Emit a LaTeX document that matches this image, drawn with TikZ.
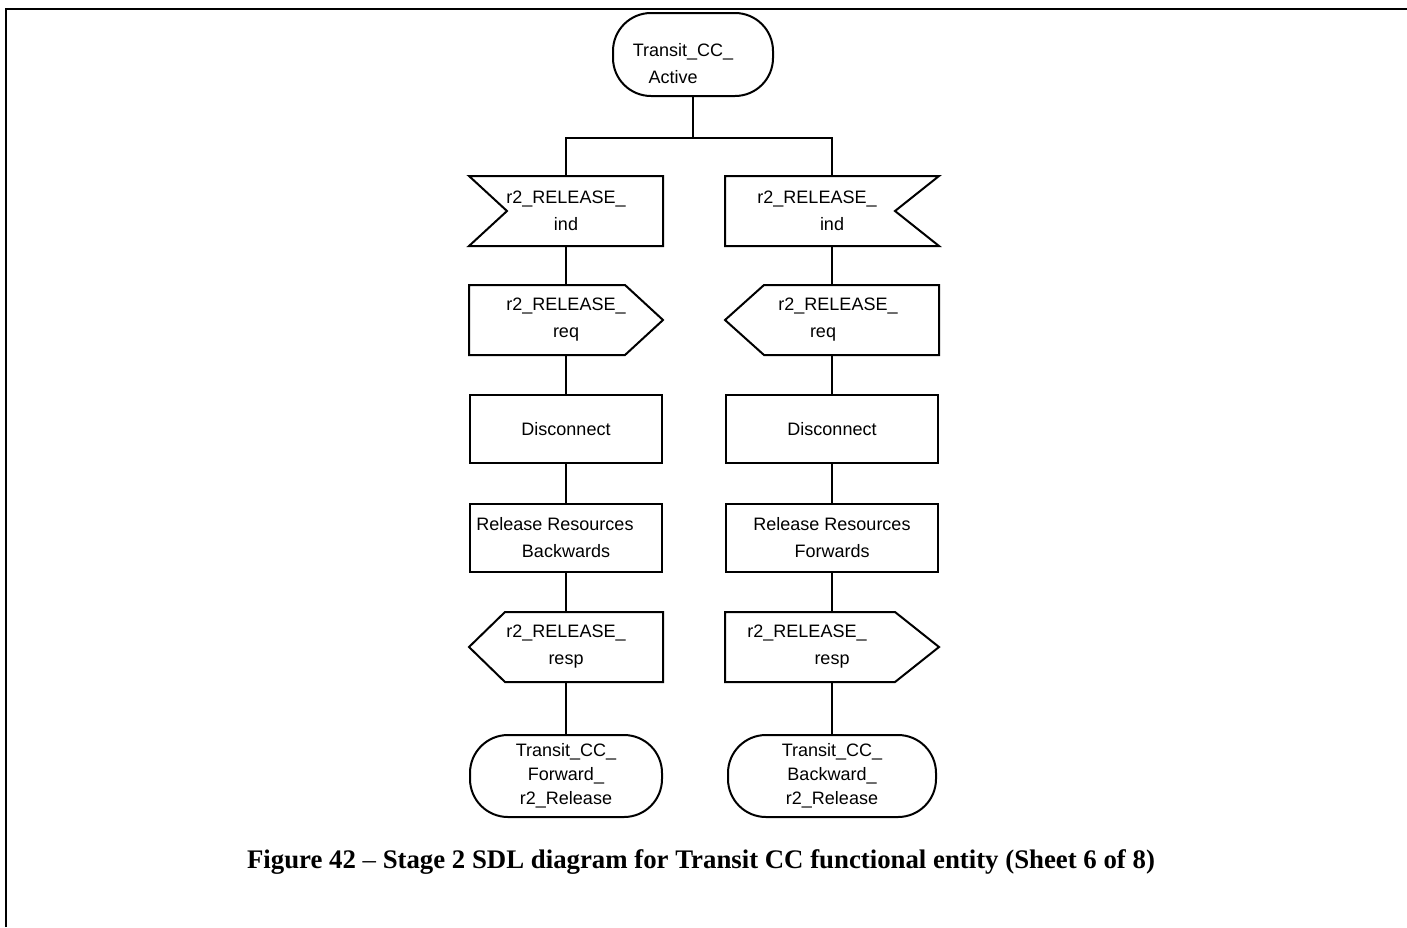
\documentclass[tikz,border=0pt]{standalone}
\usepackage{fontspec}
\setmainfont{Liberation Serif}
\setsansfont{Liberation Sans}
\usetikzlibrary{positioning}
% move one text line sideways inside a centred node
\newcommand{\sdlshift}[2]{\hbox{#2\kern#1}}

\begin{document}
\begin{tikzpicture}[
  x=0.5pt,y=-0.5pt,
  font=\sffamily\fontsize{9}{13.5}\selectfont,
  node distance=19.5pt,
  sdl/.style={line width=1pt},
  box/.style={sdl,align=center,minimum height=34pt,inner sep=0pt},
  task/.style={box,draw},
  sig/.style={box},
  sdlstate/.style={sdl,draw,rounded corners=19pt,align=center,inner sep=0pt,
                   minimum height=41pt,font=\sffamily\fontsize{9}{12}\selectfont},
  link/.style={sdl}]
  \useasboundingbox (0,0) rectangle (1407,927);
  \draw[sdl] (6,927) -- (6,9) -- (1407,9);

  \node[sdlstate,minimum width=80pt,minimum height=41.5pt,
        font=\sffamily\fontsize{9}{13.5}\selectfont] (start) at (693,54.5)
    {\rule{0pt}{15.4pt}\sdlshift{10pt}{Transit\_CC\_}\\\sdlshift{20pt}{Active}};

  % left branch
  \node[sig,minimum width=96pt] (indL) at (566,211) {r2\_RELEASE\_\\ind};
  \node[sig,minimum width=96pt,below=of indL] (reqL) {r2\_RELEASE\_\\req};
  \node[task,minimum width=96pt,below=of reqL] (discL) {Disconnect};
  \node[task,minimum width=96pt,below=of discL] (relL)
    {\sdlshift{11pt}{Release Resources}\\Backwards};
  \node[sig,minimum width=96pt,below=of relL] (respL) {r2\_RELEASE\_\\resp};
  \node[sdlstate,minimum width=96pt,below=26pt of respL] (endL)
    {Transit\_CC\_\\Forward\_\\r2\_Release};

  % right branch
  \node[sig,minimum width=106pt] (indR) at (832,211)
    {\sdlshift{15pt}{r2\_RELEASE\_}\\ind};
  \node[sig,minimum width=106pt,below=of indR] (reqR)
    {\sdlshift{-6pt}{r2\_RELEASE\_}\\\sdlshift{9pt}{req}};
  \node[task,minimum width=106pt,below=of reqR] (discR) {Disconnect};
  \node[task,minimum width=106pt,below=of discR] (relR)
    {Release Resources\\Forwards};
  \node[sig,minimum width=106pt,below=of relR] (respR)
    {\sdlshift{25pt}{r2\_RELEASE\_}\\resp};
  \node[sdlstate,minimum width=104pt,below=26pt of respR] (endR)
    {Transit\_CC\_\\Backward\_\\r2\_Release};

  % signal outlines
  \draw[sdl] (indL.north west) -- (indL.north east) -- (indL.south east)
    -- (indL.south west) -- ([xshift=19pt]indL.west) -- cycle;
  \draw[sdl] (indR.north west) -- (indR.north east) -- ([xshift=-22pt]indR.east)
    -- (indR.south east) -- (indR.south west) -- cycle;
  \foreach \n/\d in {reqL/19pt,respR/22pt}
    \draw[sdl] (\n.north west) -- ([xshift=-\d]\n.north east) -- (\n.east)
      -- ([xshift=-\d]\n.south east) -- (\n.south west) -- cycle;
  \foreach \n/\d in {reqR/19.5pt,respL/18pt}
    \draw[sdl] ([xshift=\d]\n.north west) -- (\n.north east) -- (\n.south east)
      -- ([xshift=\d]\n.south west) -- (\n.west) -- cycle;

  % flow lines
  \draw[link] (start.south) -- ++(0,41) coordinate (fork);
  \draw[link] (indL.north) |- (fork) -| (indR.north);
  \foreach \a/\b in {indL/reqL,reqL/discL,discL/relL,relL/respL,respL/endL,
                     indR/reqR,reqR/discR,discR/relR,relR/respR,respR/endR}
    \draw[link] (\a) -- (\b);

  \node[font=\rmfamily\bfseries\fontsize{13.4}{16}\selectfont] (caption) at (701,862)
    {Figure 42 {\mdseries\textendash} Stage 2 SDL diagram for Transit CC functional entity (Sheet 6 of 8)};
\end{tikzpicture}
\end{document}
